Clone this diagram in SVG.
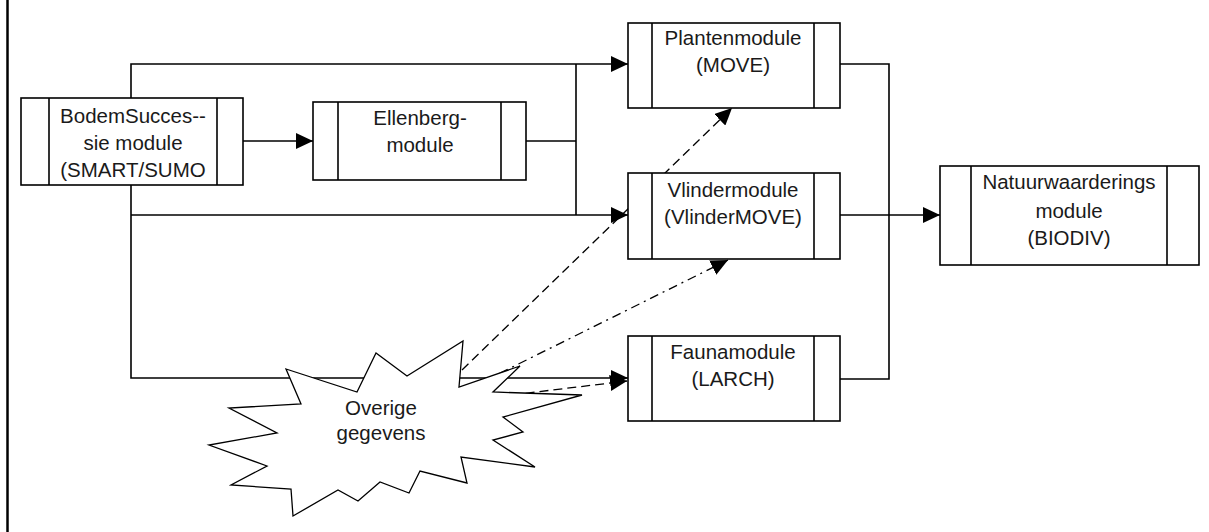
<svg xmlns="http://www.w3.org/2000/svg" width="1209" height="532" viewBox="0 0 1209 532">
<style>
.box{fill:#fff;stroke:#000;stroke-width:1.6}
.star{fill:#fff;stroke:#000;stroke-width:1.3}
.div{stroke:#000;stroke-width:1.6}
.ln{fill:none;stroke:#000;stroke-width:1.6}
.dash{fill:none;stroke:#000;stroke-width:1.3;stroke-dasharray:9 5}
.dashdot{fill:none;stroke:#000;stroke-width:1.3;stroke-dasharray:9 5 2 5}
text{font-family:"Liberation Sans",Arial,sans-serif;font-size:20.5px;fill:#1a1a1a;text-anchor:middle}
</style>
<defs>
<marker id="ah" viewBox="0 0 17 16" refX="17" refY="8" markerWidth="17" markerHeight="16" markerUnits="userSpaceOnUse" orient="auto">
<path d="M0,0 L17,8 L0,16 z" fill="#000" stroke="none"/>
</marker>
</defs>
<rect width="1209" height="532" fill="#fff"/>
<line x1="7.5" y1="0" x2="7.5" y2="532" stroke="#000" stroke-width="2.5"/>

<g id="connectors">
<polyline class="ln" points="131,98 131,64 628,64" marker-end="url(#ah)"/>
<polyline class="ln" points="131,185 131,378 628,378" marker-end="url(#ah)"/>
<line class="ln" x1="131" y1="215" x2="628" y2="215" marker-end="url(#ah)"/>
<line class="ln" x1="243" y1="141" x2="313" y2="141" marker-end="url(#ah)"/>
<polyline class="ln" points="526,141 576,141"/>
<line class="ln" x1="576" y1="64" x2="576" y2="215"/>
<polyline class="ln" points="840,64 889,64 889,379 840,379"/>
<line class="ln" x1="840" y1="215" x2="940" y2="215" marker-end="url(#ah)"/>
<line class="dash" x1="462" y1="370" x2="732" y2="108" marker-end="url(#ah)"/>
<line class="dashdot" x1="462" y1="392" x2="728" y2="260" marker-end="url(#ah)"/>
<line class="dash" x1="470" y1="400" x2="627" y2="381" marker-end="url(#ah)"/>
</g>

<g id="overige">
<polygon class="star" points="286,369 357,392 376,353 407,376 463,341 459,387 520,366 493,392 582,395 503,417 523,432 493,440 535,467 461,457 467,483 420,471 409,493 380,482 358,501 338,490 293,516 291,489 231,485 267,466 209,445 277,433 229,408 301,404"/>
<text x="381" y="415">Overige</text>
<text x="381" y="440">gegevens</text>
</g>

<g id="bodem">
<rect class="box" x="21" y="98" width="222" height="87"/>
<line class="div" x1="49" y1="98" x2="49" y2="185"/>
<line class="div" x1="217" y1="98" x2="217" y2="185"/>
<text x="133" y="123">BodemSucces--</text>
<text x="133" y="150">sie module</text>
<text x="133" y="177">(SMART/SUMO</text>
</g>

<g id="ellenberg">
<rect class="box" x="313" y="102" width="213" height="78"/>
<line class="div" x1="338" y1="102" x2="338" y2="180"/>
<line class="div" x1="501" y1="102" x2="501" y2="180"/>
<text x="420" y="125">Ellenberg-</text>
<text x="420" y="152">module</text>
</g>

<g id="planten">
<rect class="box" x="628" y="23" width="212" height="85"/>
<line class="div" x1="652" y1="23" x2="652" y2="108"/>
<line class="div" x1="814" y1="23" x2="814" y2="108"/>
<text x="733" y="45">Plantenmodule</text>
<text x="733" y="72">(MOVE)</text>
</g>

<g id="vlinder">
<rect class="box" x="628" y="173" width="212" height="86"/>
<line class="div" x1="652" y1="173" x2="652" y2="259"/>
<line class="div" x1="814" y1="173" x2="814" y2="259"/>
<text x="733" y="197">Vlindermodule</text>
<text x="733" y="224">(VlinderMOVE)</text>
</g>

<g id="fauna">
<rect class="box" x="628" y="336" width="212" height="85"/>
<line class="div" x1="652" y1="336" x2="652" y2="421"/>
<line class="div" x1="814" y1="336" x2="814" y2="421"/>
<text x="733" y="359">Faunamodule</text>
<text x="733" y="386">(LARCH)</text>
</g>

<g id="natuur">
<rect class="box" x="940" y="166" width="259" height="99"/>
<line class="div" x1="971" y1="166" x2="971" y2="265"/>
<line class="div" x1="1167" y1="166" x2="1167" y2="265"/>
<text x="1069" y="189">Natuurwaarderings</text>
<text x="1069" y="218">module</text>
<text x="1069" y="245">(BIODIV)</text>
</g>
</svg>
